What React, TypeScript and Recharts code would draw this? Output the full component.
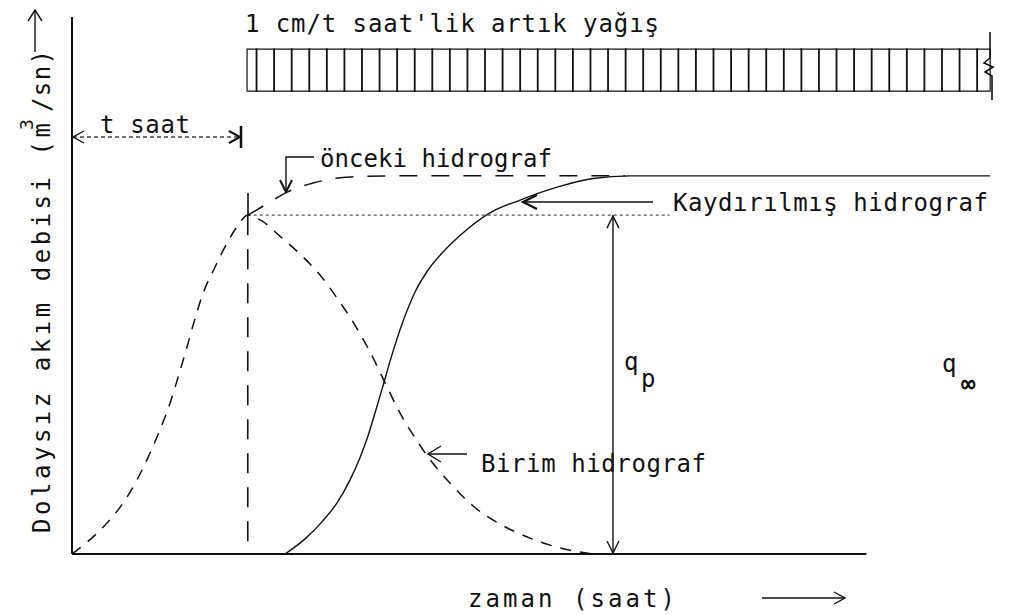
import React from 'react';
import {Bar, ComposedChart, Line, ReferenceArea, ReferenceLine, XAxis, YAxis} from 'recharts';

// birim hidrograf: zaman (saat), debi (q∞ = 1 alınarak)
const unitTime = [0, 0.8, 1.37, 1.85, 2.22, 2.5, 2.79, 3.02, 3.27, 3.47, 3.73, 4.07, 4.41, 4.69, 5.0,
  5.41, 5.92, 6.49, 7.06, 7.62, 8.05, 8.48, 8.91, 9.33, 9.76, 10.19, 10.75, 11.41, 12.18, 13.03, 13.88, 14.79];
const unitFlow = [0, 0.063, 0.124, 0.196, 0.267, 0.328, 0.399, 0.468, 0.547, 0.613, 0.69, 0.759, 0.822, 0.865, 0.896,
  0.88, 0.84, 0.793, 0.737, 0.666, 0.605, 0.534, 0.452, 0.373, 0.307, 0.249, 0.188, 0.127, 0.079, 0.042, 0.016, 0];

// önceki S hidrografı (tepe noktasından sonrası)
const prevTime = [5.0, 5.26, 5.72, 6.12, 6.86, 7.91, 9.33, 15.73];
const prevFlow = [0.896, 0.91, 0.936, 0.957, 0.981, 0.997, 1.0, 1.0];

// t saat kaydırılmış S hidrografı
const shiftTime = [6.06, 6.63, 7.11, 7.54, 7.91, 8.19, 8.42, 8.62, 8.82, 9.1, 9.42, 9.76, 10.13, 10.55,
  11.12, 11.89, 12.75, 13.8, 14.82, 15.87, 26.12];
const shiftFlow = [0, 0.04, 0.085, 0.135, 0.196, 0.254, 0.312, 0.373, 0.436, 0.526, 0.616, 0.693, 0.751, 0.798,
  0.849, 0.902, 0.936, 0.97, 0.993, 1.0, 1.0];

// artık yağış blokları (yarım saatlik), üstte ters çizilir
const rainTime = [5.25, 5.75, 6.25, 6.75, 7.25, 7.75, 8.25, 8.75, 9.25, 9.75, 10.25, 10.75, 11.25, 11.75,
  12.25, 12.75, 13.25, 13.75, 14.25, 14.75, 15.25, 15.75, 16.25, 16.75, 17.25, 17.75, 18.25, 18.75, 19.25,
  19.75, 20.25, 20.75, 21.25, 21.75, 22.25, 22.75, 23.25, 23.75, 24.25, 24.75, 25.25, 25.75];
const rainLow = 1.224;
const rainHigh = 1.335;

const peakTime = 5.0;
const qp = 0.896;
const qpTime = 15.39;

const toRows = (ts: number[], qs: number[]) => ts.map((t, i) => ({t, q: qs[i]}));
const unitData = toRows(unitTime, unitFlow);
const prevData = toRows(prevTime, prevFlow);
const shiftData = toRows(shiftTime, shiftFlow);
const rainData = rainTime.map((t) => ({t, rain: [rainLow, rainHigh]}));

const W = 1014;
const H = 615;
const ink = '#111';
const font = {fontFamily: '"DejaVu Sans Mono", monospace', fontSize: 24, fill: ink};

// q_p için iki uçlu ok
const DoubleArrow = (p: any) => {
  const {x1, y1, x2, y2} = p;
  return (
    <g stroke={ink} strokeWidth={1.4} fill="none">
      <line x1={x1} y1={y1} x2={x2} y2={y2} />
      <path d={`M${x1 - 6},${y1 + 13}L${x1},${y1 + 1}L${x1 + 6},${y1 + 13}`} />
      <path d={`M${x2 - 6},${y2 - 13}L${x2},${y2 - 1}L${x2 + 6},${y2 - 13}`} />
    </g>
  );
};

export default function App() {
  return (
    <div style={{position: 'absolute', left: 0, top: 0, width: W, height: H, background: '#fff'}}>
      <ComposedChart width={W} height={H} data={rainData} margin={{top: 17, right: 14, bottom: 61, left: 72}}>
        <XAxis type="number" dataKey="t" domain={[0, 26.4]} allowDataOverflow hide />
        <YAxis type="number" domain={[0, 1.42]} allowDataOverflow hide />

        <ReferenceArea x1={4.98} x2={26.12} y1={rainLow} y2={rainHigh} fill="none" stroke={ink} strokeWidth={1.2} ifOverflow="visible" />
        <Bar dataKey="rain" barSize={18} fill="none" stroke={ink} strokeWidth={1.5} isAnimationActive={false} />

        {/* eksenler */}
        <ReferenceLine segment={[{x: 0, y: 0}, {x: 0, y: 1.42}]} stroke={ink} strokeWidth={2} ifOverflow="visible" />
        <ReferenceLine segment={[{x: 0, y: 0}, {x: 22.6, y: 0}]} stroke={ink} strokeWidth={2} ifOverflow="visible" />

        {/* tepe debisi seviyesi ve tepe zamanı */}
        <ReferenceLine segment={[{x: peakTime, y: qp}, {x: 17.0, y: qp}]} stroke="#555" strokeWidth={1.2} strokeDasharray="3 3" ifOverflow="visible" />
        <ReferenceLine segment={[{x: peakTime, y: qp}, {x: peakTime, y: 0}]} stroke={ink} strokeWidth={1.6} strokeDasharray="20 14" ifOverflow="visible" />
        <ReferenceLine segment={[{x: qpTime, y: qp}, {x: qpTime, y: 0}]} shape={DoubleArrow} ifOverflow="visible" />

        <Line data={unitData} dataKey="q" type="monotone" stroke={ink} strokeWidth={1.5} strokeDasharray="11 9" dot={false} isAnimationActive={false} />
        <Line data={prevData} dataKey="q" type="monotone" stroke={ink} strokeWidth={1.5} strokeDasharray="18 14" dot={false} isAnimationActive={false} />
        <Line data={shiftData} dataKey="q" type="monotone" stroke={ink} strokeWidth={1.4} dot={false} isAnimationActive={false} />
      </ComposedChart>

      <svg width={W} height={H} style={{position: 'absolute', left: 0, top: 0, pointerEvents: 'none'}}>
        <g stroke={ink} strokeWidth={1.4} fill="none">
          {/* y ekseni yazısının oku */}
          <line x1={35} y1={52} x2={35} y2={10} />
          <path d="M28,21L35,10L42,21" />
          {/* t saat oku */}
          <line x1={73} y1={137} x2={240} y2={137} strokeDasharray="4 3" stroke="#444" />
          <path d="M84,131L73,137L84,143" />
          <path d="M229,131L240,137L229,143" strokeWidth={2} />
          <line x1={241} y1={126} x2={241} y2={148} strokeWidth={2.5} />
          {/* tepe işareti */}
          <line x1={248} y1={193} x2={248} y2={215} strokeWidth={1.6} />
          {/* önceki hidrograf oku */}
          <path d="M314,157H286V192" />
          <path d="M280,180L286,192L292,180" strokeWidth={2} />
          {/* kaydırılmış hidrograf oku */}
          <line x1={653} y1={202} x2={524} y2={202} />
          <path d="M537,195L523,202L537,209" strokeWidth={2.2} />
          {/* birim hidrograf oku */}
          <line x1={467} y1={454} x2={429} y2={454} />
          <path d="M441,446L428,454L441,462" />
          {/* zaman oku */}
          <line x1={762} y1={598} x2={845} y2={598} />
          <path d="M834,592L845,598L834,604" />
          {/* yağış sağ ucu kırık çizgisi */}
          <path d="M990,32V58L984,63L993,67L985,72L992,76V100" strokeWidth={1.6} />
        </g>

        <g style={font}>
          <text x={245} y={32} textLength={414} lengthAdjust="spacing">1 cm/t saat'lik artık yağış</text>
          <text x={100} y={133} textLength={90} lengthAdjust="spacing">t saat</text>
          <text x={320} y={167} textLength={232} lengthAdjust="spacing">önceki hidrograf</text>
          <text x={673} y={211} textLength={315} lengthAdjust="spacing">Kaydırılmış hidrograf</text>
          <text x={481} y={472} textLength={225} lengthAdjust="spacing">Birim hidrograf</text>
          <text x={468} y={607} textLength={207} lengthAdjust="spacing">zaman   (saat)</text>
          <text x={624} y={370}>q</text>
          <text x={641} y={387}>p</text>
          <text x={942} y={372}>q</text>
          <text x={961} y={392} fontWeight="bold">∞</text>
          <text transform="rotate(-90 50 533)" x={50} y={533} textLength={410} lengthAdjust="spacing">Dolaysız akım debisi (m</text>
          <text transform="rotate(-90 33 130)" x={33} y={130} fontSize={18}>3</text>
          <text transform="rotate(-90 50 112)" x={50} y={112} textLength={62} lengthAdjust="spacing">/sn)</text>
        </g>
      </svg>
    </div>
  );
}
